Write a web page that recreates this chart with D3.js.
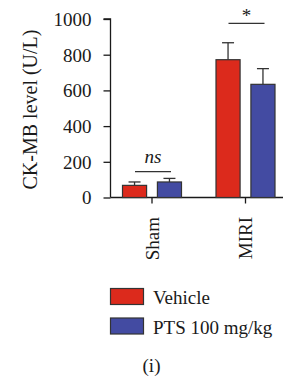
<!DOCTYPE html>
<html><head><meta charset="utf-8">
<script src="https://cdn.jsdelivr.net/npm/d3@7"></script>
<style>body{margin:0;background:#fff;} svg text{font-family:"Liberation Serif","DejaVu Serif",serif;fill:#1a1a1a;}</style>
</head><body>
<svg id="c" width="283" height="378"></svg>
<script>
const groups = ["Sham", "MIRI"];
const seriesNames = ["Vehicle", "PTS 100 mg/kg"];
const colors = ["#dc2a1c", "#434ba2"];
const vehicle = [68, 772];
const vehicleErr = [19, 95];
const pts = [87, 634];
const ptsErr = [20, 88];
const yTicks = [0, 200, 400, 600, 800, 1000];
const sigLabels = ["ns", "*"];

const FS = "19px";
const svg = d3.select("#c");
const y = d3.scaleLinear().domain([0, 1000]).range([197.5, 19]);
const x0 = d3.scaleBand().domain(groups).range([105, 292]).paddingInner(0).paddingOuter(0);
const x1 = d3.scaleBand().domain(seriesNames).range([0, 59]).paddingInner(0.31);
const ax = 110.5;

// y axis
const yAxis = d3.axisLeft(y).tickValues(yTicks).tickSize(7).tickPadding(12).tickFormat(d3.format("d"));
const gy = svg.append("g").attr("transform", `translate(${ax},0)`).call(yAxis)
  .attr("font-family", "Liberation Serif").attr("font-size", 19);
gy.select(".domain").attr("d", `M-7,${y(1000)}H0V${y(0)}`);
gy.selectAll("line").attr("stroke", "#1a1a1a").attr("stroke-width", 1.3);
gy.select(".domain").attr("stroke", "#1a1a1a").attr("stroke-width", 1.3);
gy.selectAll("text").style("font-size", FS).attr("fill", "#1a1a1a").attr("dy", "0.34em");

// x axis
const gx = svg.append("g").attr("transform", `translate(0,${y(0)})`);
gx.append("line").attr("x1", ax).attr("x2", 283).attr("stroke", "#1a1a1a").attr("stroke-width", 1.3);
const center = g => x0(g) + 47;
groups.forEach(g => {
  gx.append("line").attr("x1", center(g)).attr("x2", center(g)).attr("y1", 0).attr("y2", 6).attr("stroke", "#1a1a1a").attr("stroke-width", 1.3);
  gx.append("text").attr("transform", `translate(${center(g)+6.5},${19.5}) rotate(-90)`)
    .attr("text-anchor", "end").style("font-size", FS).text(g);
});

// y title
svg.append("text").attr("transform", `translate(36.5,${109.5}) rotate(-90)`).attr("text-anchor", "middle")
  .style("font-size", "20px").text("CK-MB level (U/L)");

// bars
const data = [vehicle, pts];
const errs = [vehicleErr, ptsErr];
seriesNames.forEach((s, si) => {
  groups.forEach((g, gi) => {
    const bx = center(g) - 29.5 + x1(s);
    const bw = x1.bandwidth();
    const v = data[si][gi], e = errs[si][gi];
    const cx = bx + bw / 2;
    svg.append("line").attr("x1", cx).attr("x2", cx).attr("y1", y(v)).attr("y2", y(v + e)).attr("stroke", "#333").attr("stroke-width", 1.3);
    svg.append("line").attr("x1", cx - 6).attr("x2", cx + 6).attr("y1", y(v + e)).attr("y2", y(v + e)).attr("stroke", "#333").attr("stroke-width", 1.3);
    svg.append("rect").attr("x", bx).attr("y", y(v)).attr("width", bw).attr("height", y(0) - y(v))
      .attr("fill", colors[si]).attr("stroke", "#333").attr("stroke-width", 1.2);
  });
});

// significance
const sigY = [145, 975];
groups.forEach((g, gi) => {
  const c = center(g);
  svg.append("line").attr("x1", c - 17).attr("x2", c + 19).attr("y1", y(sigY[gi])).attr("y2", y(sigY[gi])).attr("stroke", "#333").attr("stroke-width", 1.2);
  svg.append("text").attr("x", c + 1).attr("y", y(sigY[gi]) - (gi === 0 ? 9 : 1.5)).attr("text-anchor", "middle")
    .style("font-size", FS).style("font-style", gi === 0 ? "italic" : "normal").text(sigLabels[gi]);
});

// legend
seriesNames.forEach((s, i) => {
  const ly = 288.5 + i * 29.5;
  svg.append("rect").attr("x", 110.5).attr("y", ly).attr("width", 33).attr("height", 16)
    .attr("fill", colors[i]).attr("stroke", "#333").attr("stroke-width", 1.2);
  svg.append("text").attr("x", 153).attr("y", ly + 15.5).style("font-size", FS).text(s);
});

svg.append("text").attr("x", 151.5).attr("y", 371.5).attr("text-anchor", "middle").style("font-size", FS).text("(i)");
</script>
</body></html>
